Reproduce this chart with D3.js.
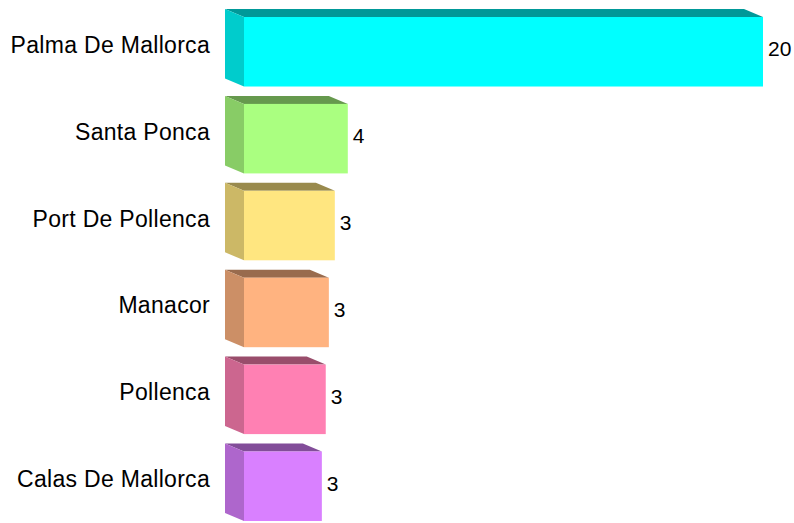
<!DOCTYPE html>
<html>
<head>
<meta charset="utf-8">
<script src="https://cdn.jsdelivr.net/npm/d3@7"></script>
<style>
html,body{margin:0;padding:0;background:#fff;}
svg{display:block;}
text{font-family:Arial,"Liberation Sans",sans-serif;}
</style>
</head>
<body>
<svg id="chart" width="794" height="523"></svg>
<script>
const categories = ["Palma De Mallorca","Santa Ponca","Port De Pollenca","Manacor","Pollenca","Calas De Mallorca"];
const values = [20, 4, 3.5, 3.27, 3.15, 3];
const valueLabels = ["20","4","3","3","3","3"];
const frontColors = ["#00FFFF","#AAFF80","#FFE680","#FFB380","#FF80B3","#D980FF"];

const svg = d3.select("#chart");
const depthX = -19, depthY = -8;

const x = d3.scaleLinear().domain([0, 20]).range([244, 763]);
const y = d3.scaleBand().domain(categories).range([17, 521]).paddingInner(0.2).paddingOuter(0);

const data = categories.map((c, i) => ({c, v: values[i], label: valueLabels[i], color: frontColors[i]}));

const g = svg.append("g");
const bars = g.selectAll("g.bar").data(data).join("g").attr("class","bar");

function shade(col, k){
  const c = d3.rgb(col);
  return d3.rgb(c.r*k, c.g*k, c.b*k).formatHex();
}

// top face
bars.append("path")
  .attr("d", d => {
    const x0 = x(0), x1 = x(d.v), yt = y(d.c);
    return `M${x0},${yt} L${x0+depthX},${yt+depthY} L${x1+depthX},${yt+depthY} L${x1},${yt} Z`;
  })
  .attr("fill", d => shade(d.color, 0.6));

// left side face
bars.append("path")
  .attr("d", d => {
    const x0 = x(0), yt = y(d.c), yb = y(d.c) + y.bandwidth();
    return `M${x0},${yt} L${x0+depthX},${yt+depthY} L${x0+depthX},${yb+depthY} L${x0},${yb} Z`;
  })
  .attr("fill", d => shade(d.color, 0.8));

// front face
bars.append("rect")
  .attr("x", x(0))
  .attr("y", d => y(d.c))
  .attr("width", d => x(d.v) - x(0))
  .attr("height", y.bandwidth())
  .attr("fill", d => d.color);

// value labels
bars.append("text")
  .attr("x", d => x(d.v) + 5)
  .attr("y", d => y(d.c) + y.bandwidth()/2 - 3)
  .attr("dy", "0.35em")
  .attr("font-size", 21)
  .attr("fill", "#000")
  .text(d => d.label);

// category labels
bars.append("text")
  .attr("x", 210)
  .attr("y", d => y(d.c) + y.bandwidth()/2 - 7)
  .attr("dy", "0.35em")
  .attr("text-anchor", "end")
  .attr("font-size", 23)
  .attr("letter-spacing", 0.3)
  .attr("fill", "#000")
  .text(d => d.c);
</script>
</body>
</html>
